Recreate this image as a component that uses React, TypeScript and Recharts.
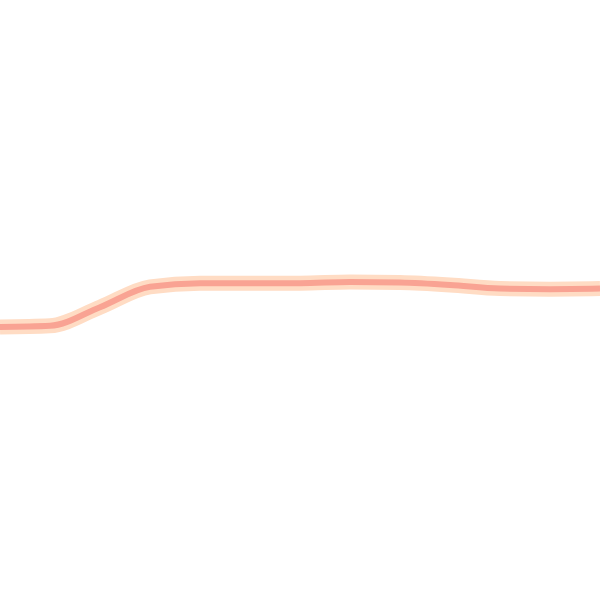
import React from "react";
import { LineChart, Line, XAxis, YAxis } from "recharts";

// one sample every 50px across the plot
const steps = ["0", "1", "2", "3", "4", "5", "6", "7", "8", "9", "10", "11", "12"];
const values = [45.5, 45.7, 48.8, 52.2, 52.8, 52.8, 52.8, 53.0, 52.9, 52.5, 51.9, 51.8, 51.9];

const data = steps.map((step, i) => ({ step, value: values[i] }));

const App = () => {
  return (
    <div style={{ position: "fixed", top: 0, left: 0, width: 600, height: 600, background: "#fff" }}>
      <LineChart width={600} height={600} data={data} margin={{ top: 0, right: 0, left: 0, bottom: 0 }}>
        <XAxis dataKey="step" hide padding={{ left: 0, right: 0 }} />
        <YAxis hide domain={[0, 100]} />
        {/* soft halo under the line */}
        <Line
          type="monotone"
          dataKey="value"
          stroke="#FFDCC4"
          strokeWidth={15}
          dot={false}
          activeDot={false}
          isAnimationActive={false}
        />
        <Line
          type="monotone"
          dataKey="value"
          stroke="#F9A393"
          strokeWidth={6}
          dot={false}
          activeDot={false}
          isAnimationActive={false}
        />
      </LineChart>
    </div>
  );
};

export default App;
